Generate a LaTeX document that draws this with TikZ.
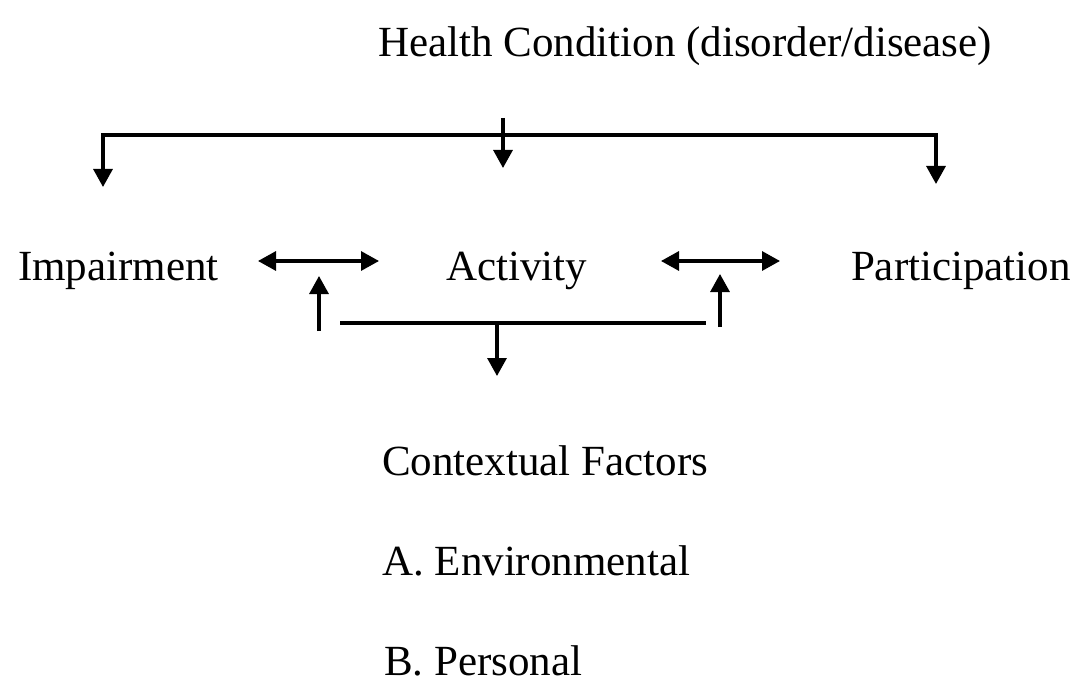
\documentclass[tikz,border=0pt]{standalone}
\usepackage{fontspec}
\setmainfont{Liberation Serif}
\usetikzlibrary{arrows.meta}

\begin{document}
\begin{tikzpicture}[x=1pt, y=-1pt,
    every node/.style={font=\fontsize{43}{50}\selectfont, inner sep=0pt},
    link/.style={line width=3.2pt},
    arr/.style={link, -{Triangle[width=19pt, length=18pt]}},
    darr/.style={link, {Triangle[width=19pt, length=18pt]}-{Triangle[width=19pt, length=18pt]}}]
  \useasboundingbox (0, 0) rectangle (1088, 698);

  % Labels
  \node[anchor=base west] (health) at (378, 57) {Health Condition (disorder/disease)};
  \node[anchor=base west] (imp) at (18, 280) {Impairment};
  \node[anchor=base west] (act) at (446, 280) {Activity};
  \node[anchor=base east] (part) at (1071, 280) {Participation};
  \node[anchor=base west] (ctx) at (382, 475) {Contextual Factors};
  \node[anchor=base west] (env) at (382, 575) {A. Environmental};
  \node[anchor=base west] (pers) at (384, 675) {B. Personal};

  % Top bar
  \coordinate (topL) at (103, 135);
  \coordinate (topR) at (936, 135);
  \coordinate (impIn) at (103, 187);
  \coordinate (partIn) at (936, 184);
  \coordinate (midTop) at (503, 118);
  \coordinate (actIn) at (503, 168);
  \draw[arr] (topR) -- (topL) -- (impIn);
  \draw[arr] (topL) -- (topR) -- (partIn);
  \draw[arr] (midTop) -- (actIn);

  % Two-way arrows
  \coordinate (impR) at (258, 261);
  \coordinate (actL) at (379, 261);
  \coordinate (actR) at (661, 261);
  \coordinate (partL) at (780, 261);
  \draw[darr] (impR) -- (actL);
  \draw[darr] (actR) -- (partL);

  % Bottom bar
  \coordinate (upL0) at (319, 331);
  \coordinate (upL1) at (319, 276);
  \coordinate (upR0) at (720, 327);
  \coordinate (upR1) at (720, 274);
  \coordinate (barL) at (340, 323);
  \coordinate (barR) at (706, 323);
  \coordinate (barM) at (497, 323);
  \coordinate (ctxIn) at (497, 376);
  \draw[arr] (upL0) -- (upL1);
  \draw[arr] (upR0) -- (upR1);
  \draw[link] (barL) -- (barR);
  \draw[arr] (barM) -- (ctxIn);
\end{tikzpicture}
\end{document}
